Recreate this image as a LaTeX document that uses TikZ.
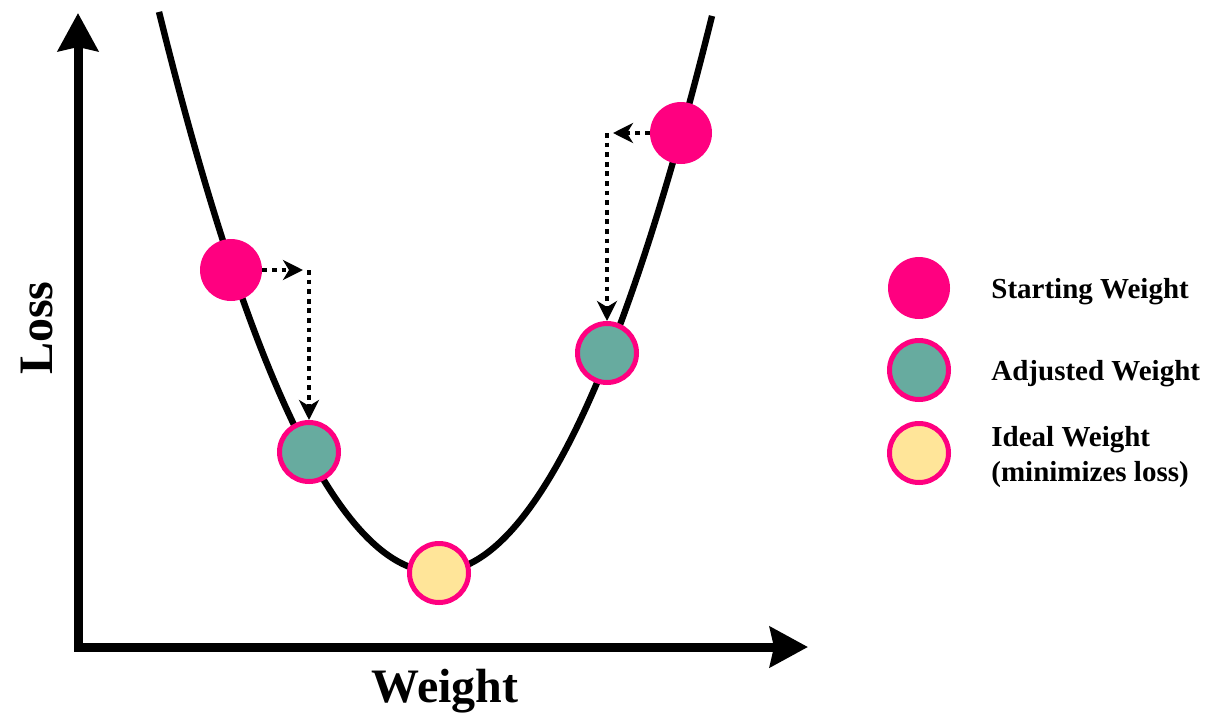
\documentclass[tikz,border=0pt]{standalone}
\usepackage{fontspec}
\setmainfont{Liberation Serif}
\usetikzlibrary{arrows.meta}
\definecolor{startpink}{HTML}{FF0080}
\definecolor{adjteal}{HTML}{67AB9F}
\definecolor{idealyellow}{HTML}{FFE599}

\begin{document}
\begin{tikzpicture}[x=0.5pt,y=-0.5pt,
  startw/.style={circle,fill=startpink,minimum size=31pt,inner sep=0pt},
  adjw/.style={circle,draw=startpink,line width=2.5pt,fill=adjteal,minimum size=29.5pt,inner sep=0pt},
  idealw/.style={circle,draw=startpink,line width=2.5pt,fill=idealyellow,minimum size=29.5pt,inner sep=0pt},
  stepline/.style={line width=2.4pt,dash pattern=on 2.4pt off 2.4pt,-{Stealth[length=10pt,width=10pt,inset=3pt]}},
  axislabel/.style={font=\bfseries\fontsize{24}{28}\selectfont,anchor=base,inner sep=0pt},
  legendtext/.style={font=\bfseries\fontsize{14.5}{17.5}\selectfont,anchor=base west,inner sep=0pt,align=left}]
\useasboundingbox (0,0) rectangle (1209,723);

% axes
\draw[line width=4.5pt,{Stealth[length=19pt,width=20pt,inset=2pt]}-{Stealth[length=19pt,width=20pt,inset=2pt]}] (78,13) -- (78,647) -- (808,647);
\node[axislabel] (wlabel) at (445,702) {Weight};
\node[axislabel,rotate=90] (llabel) at (52,328) {Loss};

% loss curve
\draw[line width=3.2pt] plot[domain=159:712,samples=120,smooth] (\x,{572-73*((\x-436)/100)^2});

% weights on the curve
\node[startw] (s1) at (231,270) {};
\node[adjw] (a1) at (309,452) {};
\node[idealw] (ideal) at (439,573) {};
\node[adjw] (a2) at (607,353) {};
\node[startw] (s2) at (681,133) {};

% steps
\coordinate (c1) at (a1.north |- s1.east);
\coordinate (c2) at (a2.north |- s2.west);
\draw[stepline,shorten >=3pt] (s1.east) -- (c1);
\draw[stepline] (c1) -- (a1.north);
\draw[stepline,shorten >=3pt] (s2.west) -- (c2);
\draw[stepline] (c2) -- (a2.north);

% legend
\node[startw] (legs) at (919,288) {};
\node[adjw] (lega) at (919,370) {};
\node[idealw] (legi) at (919,453) {};
\node[legendtext] (legstext) at (991,298) {Starting Weight};
\node[legendtext] (legatext) at (991,380) {Adjusted Weight};
\node[legendtext] (legitext) at (991,481) {Ideal Weight\\(minimizes loss)};
\end{tikzpicture}
\end{document}
